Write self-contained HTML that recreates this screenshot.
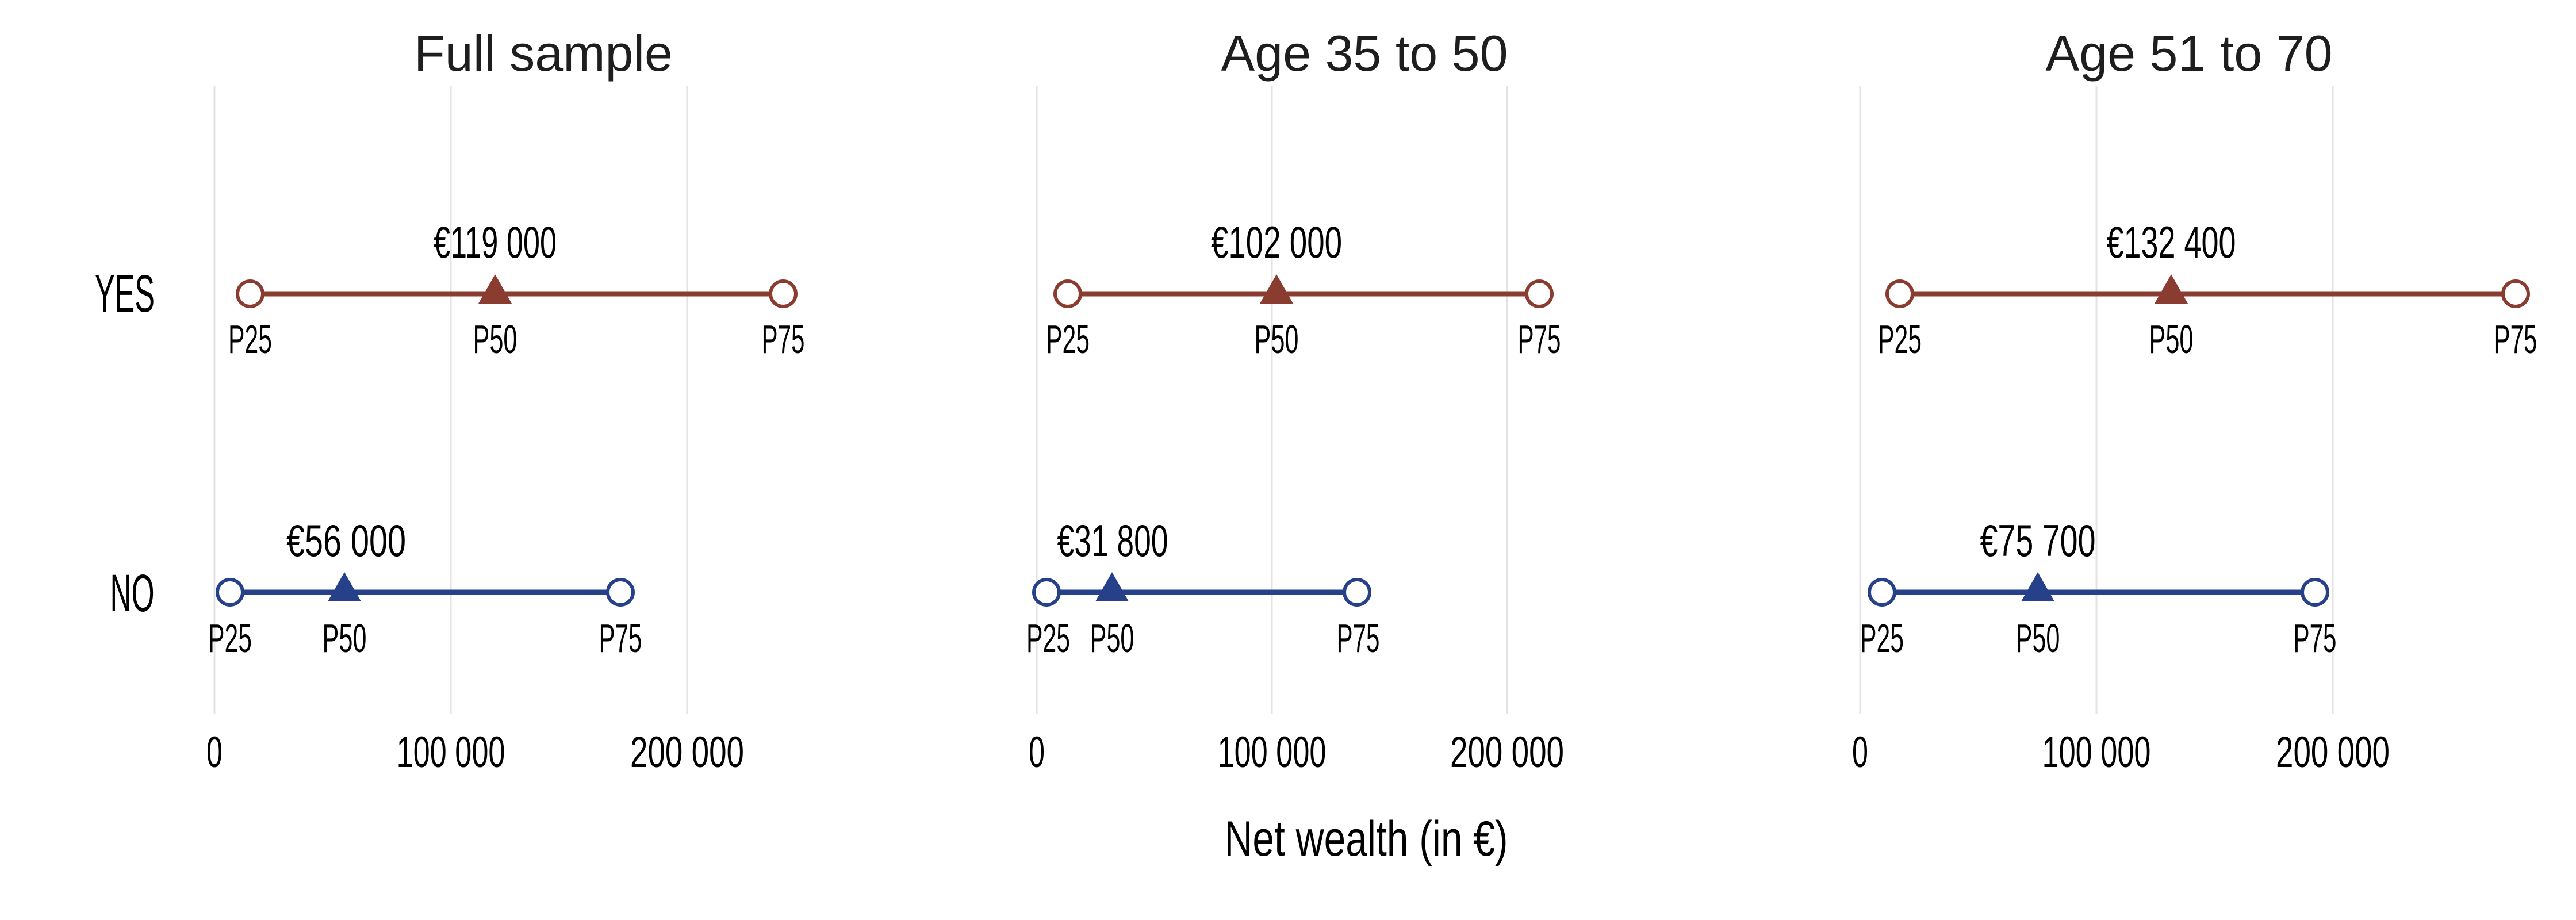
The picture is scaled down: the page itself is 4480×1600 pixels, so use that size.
<!DOCTYPE html>
<html><head><meta charset="utf-8"><style>
html,body{margin:0;padding:0;background:#fff;}
svg{display:block;}
.t{font-family:"Liberation Sans",sans-serif;font-size:88px;fill:#1e1e1e;text-anchor:middle;}
.c{font-family:"Liberation Sans Narrow","Liberation Sans",sans-serif;fill:#000;text-anchor:middle;}
</style></head><body>
<svg width="4480" height="1600" viewBox="0 0 4480 1600" xmlns="http://www.w3.org/2000/svg">
<g stroke="#e3e3e3" stroke-width="3">
<line x1="373" y1="149" x2="373" y2="1241"/><line x1="784" y1="149" x2="784" y2="1241"/><line x1="1195" y1="149" x2="1195" y2="1241"/>
<line x1="1803" y1="149" x2="1803" y2="1241"/><line x1="2212" y1="149" x2="2212" y2="1241"/><line x1="2621" y1="149" x2="2621" y2="1241"/>
<line x1="3235" y1="149" x2="3235" y2="1241"/><line x1="3646" y1="149" x2="3646" y2="1241"/><line x1="4057" y1="149" x2="4057" y2="1241"/>
</g>
<text class="t" x="945" y="123">Full sample</text>
<text class="t" x="2373" y="123">Age 35 to 50</text>
<text class="t" x="3807" y="123">Age 51 to 70</text>

<text class="c" x="217" y="542" font-size="92" textLength="104" lengthAdjust="spacingAndGlyphs">YES</text>
<text class="c" x="230" y="1063" font-size="92" textLength="77" lengthAdjust="spacingAndGlyphs">NO</text>

<g stroke-width="9">
<line x1="435" y1="511" x2="1362" y2="511" stroke="#8b3c30"/>
<line x1="400" y1="1030" x2="1079" y2="1030" stroke="#26408a"/>
<line x1="1857" y1="511" x2="2677" y2="511" stroke="#8b3c30"/>
<line x1="1820" y1="1030" x2="2360" y2="1030" stroke="#26408a"/>
<line x1="3304" y1="511" x2="4375" y2="511" stroke="#8b3c30"/>
<line x1="3273" y1="1030" x2="4026" y2="1030" stroke="#26408a"/>
</g>
<g fill="#fff" stroke-width="6">
<circle cx="435" cy="511" r="22" stroke="#8b3c30"/><circle cx="1362" cy="511" r="22" stroke="#8b3c30"/>
<circle cx="400" cy="1030" r="22" stroke="#26408a"/><circle cx="1079" cy="1030" r="22" stroke="#26408a"/>
<circle cx="1857" cy="511" r="22" stroke="#8b3c30"/><circle cx="2677" cy="511" r="22" stroke="#8b3c30"/>
<circle cx="1820" cy="1030" r="22" stroke="#26408a"/><circle cx="2360" cy="1030" r="22" stroke="#26408a"/>
<circle cx="3304" cy="511" r="22" stroke="#8b3c30"/><circle cx="4375" cy="511" r="22" stroke="#8b3c30"/>
<circle cx="3273" cy="1030" r="22" stroke="#26408a"/><circle cx="4026" cy="1030" r="22" stroke="#26408a"/>
</g>
<g fill="#8b3c30">
<polygon points="861,477 832,528 890,528"/>
<polygon points="2220,477 2191,528 2249,528"/>
<polygon points="3776,477 3747,528 3805,528"/>
</g>
<g fill="#26408a">
<polygon points="599,995 570,1046 628,1046"/>
<polygon points="1934,995 1905,1046 1963,1046"/>
<polygon points="3544,995 3515,1046 3573,1046"/>
</g>

<g font-size="78">
<text class="c" x="861" y="448" textLength="214" lengthAdjust="spacingAndGlyphs">€119 000</text>
<text class="c" x="602" y="967" textLength="208" lengthAdjust="spacingAndGlyphs">€56 000</text>
<text class="c" x="2220" y="448" textLength="228" lengthAdjust="spacingAndGlyphs">€102 000</text>
<text class="c" x="1935" y="967" textLength="193" lengthAdjust="spacingAndGlyphs">€31 800</text>
<text class="c" x="3776" y="448" textLength="225" lengthAdjust="spacingAndGlyphs">€132 400</text>
<text class="c" x="3544" y="967" textLength="201" lengthAdjust="spacingAndGlyphs">€75 700</text>
</g>
<g font-size="70">
<text class="c" x="435" y="614" textLength="76" lengthAdjust="spacingAndGlyphs">P25</text>
<text class="c" x="861" y="614" textLength="77" lengthAdjust="spacingAndGlyphs">P50</text>
<text class="c" x="1362" y="614" textLength="75" lengthAdjust="spacingAndGlyphs">P75</text>
<text class="c" x="400" y="1134" textLength="76" lengthAdjust="spacingAndGlyphs">P25</text>
<text class="c" x="599" y="1134" textLength="77" lengthAdjust="spacingAndGlyphs">P50</text>
<text class="c" x="1079" y="1134" textLength="75" lengthAdjust="spacingAndGlyphs">P75</text>
<text class="c" x="1857" y="614" textLength="76" lengthAdjust="spacingAndGlyphs">P25</text>
<text class="c" x="2220" y="614" textLength="77" lengthAdjust="spacingAndGlyphs">P50</text>
<text class="c" x="2677" y="614" textLength="75" lengthAdjust="spacingAndGlyphs">P75</text>
<text class="c" x="1823" y="1134" textLength="76" lengthAdjust="spacingAndGlyphs">P25</text>
<text class="c" x="1934" y="1134" textLength="77" lengthAdjust="spacingAndGlyphs">P50</text>
<text class="c" x="2362" y="1134" textLength="75" lengthAdjust="spacingAndGlyphs">P75</text>
<text class="c" x="3304" y="614" textLength="76" lengthAdjust="spacingAndGlyphs">P25</text>
<text class="c" x="3776" y="614" textLength="77" lengthAdjust="spacingAndGlyphs">P50</text>
<text class="c" x="4375" y="614" textLength="75" lengthAdjust="spacingAndGlyphs">P75</text>
<text class="c" x="3273" y="1134" textLength="76" lengthAdjust="spacingAndGlyphs">P25</text>
<text class="c" x="3544" y="1134" textLength="77" lengthAdjust="spacingAndGlyphs">P50</text>
<text class="c" x="4026" y="1134" textLength="75" lengthAdjust="spacingAndGlyphs">P75</text>
</g>
<g font-size="76">
<text class="c" x="373" y="1334" textLength="28" lengthAdjust="spacingAndGlyphs">0</text>
<text class="c" x="784" y="1334" textLength="189" lengthAdjust="spacingAndGlyphs">100 000</text>
<text class="c" x="1195" y="1334" textLength="198" lengthAdjust="spacingAndGlyphs">200 000</text>
<text class="c" x="1803" y="1334" textLength="28" lengthAdjust="spacingAndGlyphs">0</text>
<text class="c" x="2212" y="1334" textLength="189" lengthAdjust="spacingAndGlyphs">100 000</text>
<text class="c" x="2621" y="1334" textLength="198" lengthAdjust="spacingAndGlyphs">200 000</text>
<text class="c" x="3235" y="1334" textLength="28" lengthAdjust="spacingAndGlyphs">0</text>
<text class="c" x="3646" y="1334" textLength="189" lengthAdjust="spacingAndGlyphs">100 000</text>
<text class="c" x="4057" y="1334" textLength="198" lengthAdjust="spacingAndGlyphs">200 000</text>
</g>
<text class="c" x="2376" y="1488" font-size="86" textLength="493" lengthAdjust="spacingAndGlyphs">Net wealth (in €)</text>
</svg>
</body></html>
